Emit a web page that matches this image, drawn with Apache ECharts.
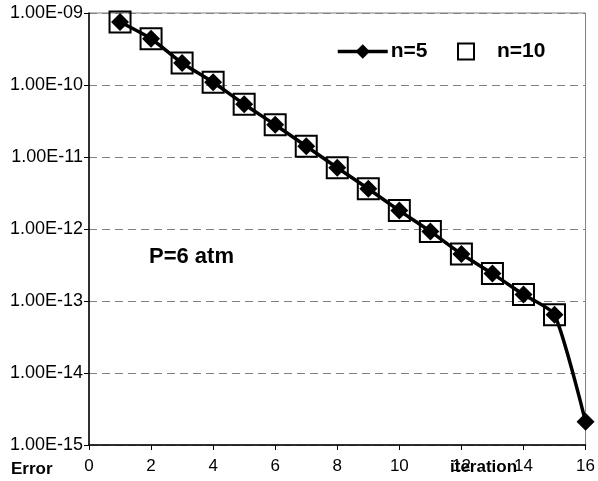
<!DOCTYPE html>
<html>
<head>
<meta charset="utf-8">
<script src="https://cdn.jsdelivr.net/npm/echarts@6/dist/echarts.min.js"></script>
<style>
  html, body { margin: 0; padding: 0; background: #fff; }
  #chart { width: 598px; height: 481px; }
</style>
</head>
<body>
<div id="chart"></div>
<script>
// iterations
const iterN5 = [1, 2, 3, 4, 5, 6, 7, 8, 9, 10, 11, 12, 13, 14, 15, 16];
const iterN10 = [1, 2, 3, 4, 5, 6, 7, 8, 9, 10, 11, 12, 13, 14, 15];
// error values
const errN5 = [7.5e-10, 4.4e-10, 2.02e-10, 1.09e-10, 5.4e-11, 2.8e-11, 1.41e-11, 7.1e-12,
  3.62e-12, 1.8e-12, 9.25e-13, 4.5e-13, 2.4e-13, 1.23e-13, 6.45e-14, 2.1e-15];
const errN10 = [7.5e-10, 4.4e-10, 2.02e-10, 1.09e-10, 5.4e-11, 2.8e-11, 1.41e-11, 7.1e-12,
  3.62e-12, 1.8e-12, 9.25e-13, 4.5e-13, 2.4e-13, 1.23e-13, 6.45e-14];
const seriesNames = ['n=5', 'n=10'];

const FONT = 'Liberation Sans, Arial, sans-serif';

// 1e-9 -> "1.00E-09"
function sciLabel(v) {
  const e = Math.round(Math.log10(v));
  const m = v / Math.pow(10, e);
  const sign = e < 0 ? '-' : '+';
  const a = Math.abs(e);
  return m.toFixed(2) + 'E' + sign + (a < 10 ? '0' + a : a);
}

const chart = echarts.init(document.getElementById('chart'));
chart.setOption({
  animation: false,
  backgroundColor: '#fff',
  grid: {
    left: 89, right: 8, top: 13, bottom: 36,
    show: true, borderColor: '#808080', borderWidth: 1
  },
  legend: [
    {
      data: [seriesNames[0]],
      left: 331, top: 36,
      itemWidth: 50, itemHeight: 18,
      lineStyle: { width: 3.5 },
      textStyle: { fontFamily: FONT, fontSize: 21, fontWeight: 'bold', color: '#000', padding: [0, 0, 0, -2] }
    },
    {
      data: [seriesNames[1]],
      left: 452, top: 36,
      itemWidth: 16, itemHeight: 16,
      itemStyle: { borderWidth: 2, borderColor: '#000' },
      textStyle: { fontFamily: FONT, fontSize: 21, fontWeight: 'bold', color: '#000', padding: [0, 0, 0, 18] }
    }
  ],
  xAxis: {
    type: 'value',
    min: 0, max: 16, interval: 2,
    axisLine: { lineStyle: { color: '#000', width: 1.5 } },
    axisTick: { show: true, length: 5, lineStyle: { color: '#000' } },
    axisLabel: { fontFamily: FONT, fontSize: 17, color: '#000', margin: 13 },
    splitLine: { show: false }
  },
  yAxis: {
    type: 'log',
    logBase: 10,
    min: 1e-15, max: 1e-9, interval: 1,
    axisLine: { show: true, lineStyle: { color: '#000', width: 1.5 } },
    axisTick: { show: true, length: 5, lineStyle: { color: '#000' } },
    axisLabel: { fontFamily: FONT, fontSize: 18, color: '#000', margin: 6, formatter: sciLabel },
    splitLine: { show: true, lineStyle: { color: '#808080', type: [8, 5], width: 1 } },
    minorTick: { show: false }
  },
  graphic: [
    { type: 'text', left: 149, top: 246, style: { text: 'P=6 atm', font: 'bold 22px ' + FONT, fill: '#000' } },
    { type: 'text', left: 11, top: 461, style: { text: 'Error', font: 'bold 17px ' + FONT, fill: '#000' } },
    { type: 'text', left: 450, top: 459, z: 10, style: { text: 'iteration', font: 'bold 17px ' + FONT, fill: '#000' } }
  ],
  series: [
    {
      name: seriesNames[1],
      type: 'scatter',
      z: 2,
      data: iterN10.map((x, i) => [x, errN10[i]]),
      symbol: 'rect',
      symbolSize: 21,
      itemStyle: { color: 'rgba(255,255,255,0)', borderColor: '#000', borderWidth: 2, opacity: 1 },
      emphasis: { disabled: true }
    },
    {
      name: seriesNames[0],
      type: 'line',
      z: 3,
      clip: false,
      smooth: 0.2,
      data: iterN5.map((x, i) => [x, errN5[i]]),
      symbol: 'diamond',
      symbolSize: 18,
      showAllSymbol: true,
      lineStyle: { color: '#000', width: 3.5 },
      itemStyle: { color: '#000' },
      emphasis: { disabled: true }
    }
  ]
});
</script>
</body>
</html>
